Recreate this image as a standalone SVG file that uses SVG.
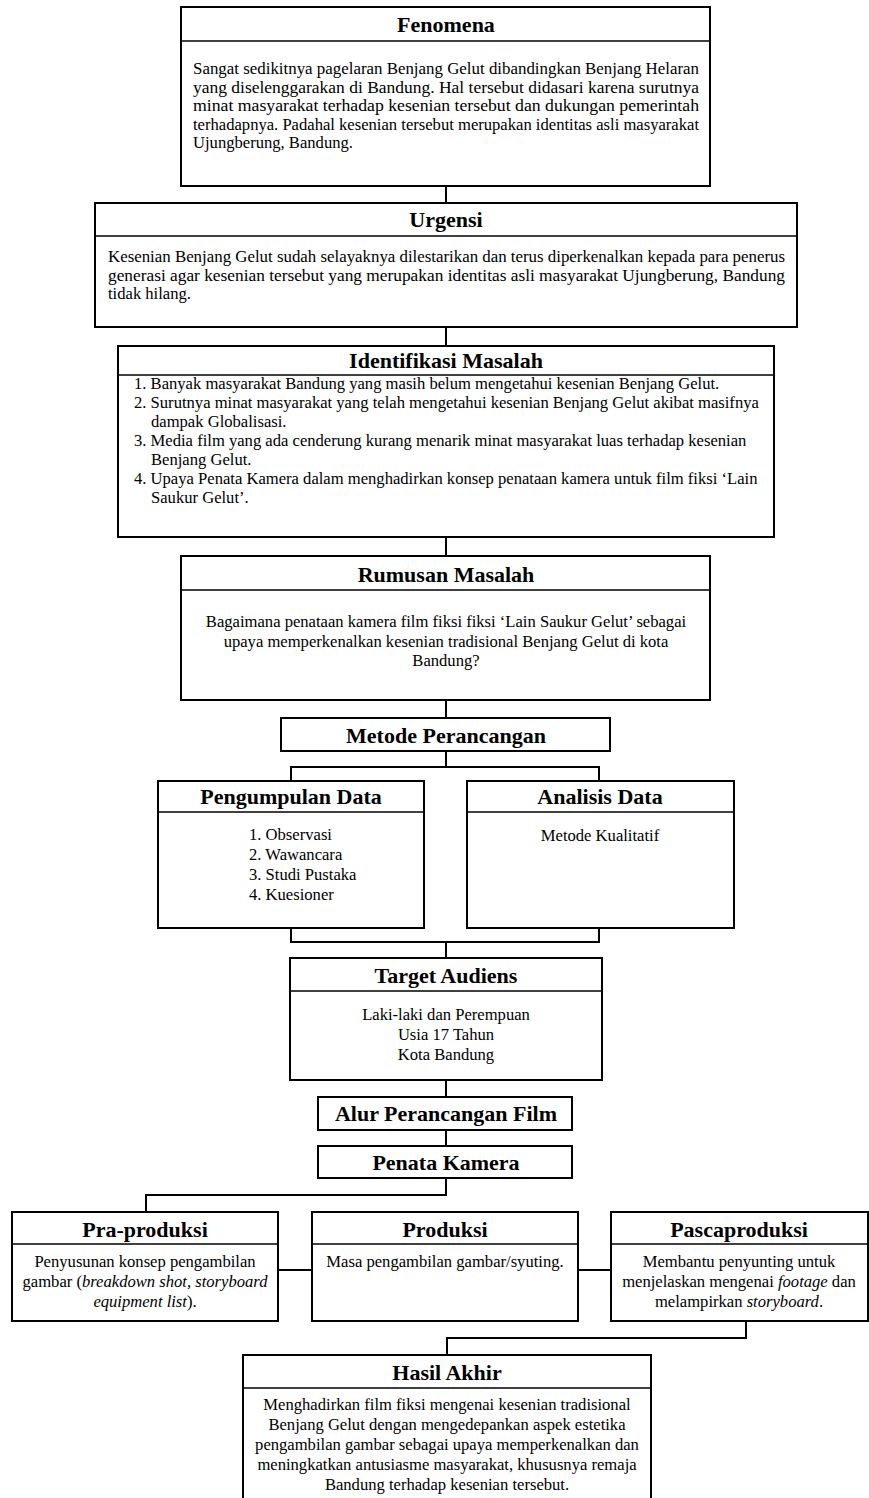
<svg xmlns="http://www.w3.org/2000/svg" width="869" height="1498" viewBox="0 0 869 1498">
<style>
.box{fill:#fff;stroke:#000;stroke-width:2}
.hl{stroke:#000;stroke-width:1.6}
.t{font-family:"Liberation Serif","Times New Roman",serif;font-weight:bold;font-size:22px;text-anchor:middle;fill:#000}
.b{font-family:"Liberation Serif","Times New Roman",serif;font-size:16.6px;fill:#000}
.c{text-anchor:middle}
.con{fill:none;stroke:#000;stroke-width:2}
</style>
<rect width="869" height="1498" fill="#fff"/>
<g id="connectors">
<path class="con" d="M446 186V203M446 327V346M446 537V556M446 700V718M446 751V767M291 781V767H599V781M291 928V942H599V928M446 942V958M446 1080V1097M446 1130V1146M446 1178V1195H146V1212M278 1270H312M578 1270H611M746 1321V1338H447V1355"/>
</g>
<g id="fenomena">
<rect class="box" x="181" y="7" width="529" height="179"/>
<line class="hl" x1="181" y1="41" x2="710" y2="41"/>
<text class="t" x="446" y="32">Fenomena</text>
<text class="b" x="193" y="74" textLength="506" lengthAdjust="spacingAndGlyphs">Sangat sedikitnya pagelaran Benjang Gelut dibandingkan Benjang Helaran</text>
<text class="b" x="193" y="93" textLength="506" lengthAdjust="spacingAndGlyphs">yang diselenggarakan di Bandung. Hal tersebut didasari karena surutnya</text>
<text class="b" x="193" y="111" textLength="506" lengthAdjust="spacingAndGlyphs">minat masyarakat terhadap kesenian tersebut dan dukungan pemerintah</text>
<text class="b" x="193" y="130" textLength="506" lengthAdjust="spacingAndGlyphs">terhadapnya. Padahal kesenian tersebut merupakan identitas asli masyarakat</text>
<text class="b" x="193" y="148">Ujungberung, Bandung.</text>
</g>
<g id="urgensi">
<rect class="box" x="95" y="203" width="702" height="124"/>
<line class="hl" x1="95" y1="236" x2="797" y2="236"/>
<text class="t" x="446" y="227">Urgensi</text>
<text class="b" x="108" y="262" textLength="677" lengthAdjust="spacingAndGlyphs">Kesenian Benjang Gelut sudah selayaknya dilestarikan dan terus diperkenalkan kepada para penerus</text>
<text class="b" x="108" y="281" textLength="677" lengthAdjust="spacingAndGlyphs">generasi agar kesenian tersebut yang merupakan identitas asli masyarakat Ujungberung, Bandung</text>
<text class="b" x="108" y="299">tidak hilang.</text>
</g>
<g id="identifikasi">
<rect class="box" x="118" y="346" width="656" height="191"/>
<line class="hl" x1="118" y1="375" x2="774" y2="375"/>
<text class="t" x="446" y="368">Identifikasi Masalah</text>
<text class="b" x="134" y="389">1. Banyak masyarakat Bandung yang masih belum mengetahui kesenian Benjang Gelut.</text>
<text class="b" x="134" y="408">2. Surutnya minat masyarakat yang telah mengetahui kesenian Benjang Gelut akibat masifnya</text>
<text class="b" x="151" y="427">dampak Globalisasi.</text>
<text class="b" x="134" y="446">3. Media film yang ada cenderung kurang menarik minat masyarakat luas terhadap kesenian</text>
<text class="b" x="151" y="465">Benjang Gelut.</text>
<text class="b" x="134" y="484">4. Upaya Penata Kamera dalam menghadirkan konsep penataan kamera untuk film fiksi ‘Lain</text>
<text class="b" x="151" y="503">Saukur Gelut’.</text>
</g>
<g id="rumusan">
<rect class="box" x="181" y="556" width="529" height="144"/>
<line class="hl" x1="181" y1="590" x2="710" y2="590"/>
<text class="t" x="446" y="582">Rumusan Masalah</text>
<text class="b c" x="446" y="627">Bagaimana penataan kamera film fiksi fiksi ‘Lain Saukur Gelut’ sebagai</text>
<text class="b c" x="446" y="647">upaya memperkenalkan kesenian tradisional Benjang Gelut di kota</text>
<text class="b c" x="446" y="666">Bandung?</text>
</g>
<g id="metode">
<rect class="box" x="281" y="718" width="329" height="33"/>
<text class="t" x="446" y="743">Metode Perancangan</text>
</g>
<g id="pengumpulan">
<rect class="box" x="158" y="781" width="266" height="147"/>
<line class="hl" x1="158" y1="812" x2="424" y2="812"/>
<text class="t" x="291" y="804">Pengumpulan Data</text>
<text class="b" x="249" y="840">1. Observasi</text>
<text class="b" x="249" y="860">2. Wawancara</text>
<text class="b" x="249" y="880">3. Studi Pustaka</text>
<text class="b" x="249" y="900">4. Kuesioner</text>
</g>
<g id="analisis">
<rect class="box" x="467" y="781" width="267" height="147"/>
<line class="hl" x1="467" y1="812" x2="734" y2="812"/>
<text class="t" x="600" y="804">Analisis Data</text>
<text class="b c" x="600" y="841">Metode Kualitatif</text>
</g>
<g id="target">
<rect class="box" x="290" y="958" width="312" height="122"/>
<line class="hl" x1="290" y1="991" x2="602" y2="991"/>
<text class="t" x="446" y="983">Target Audiens</text>
<text class="b c" x="446" y="1020">Laki-laki dan Perempuan</text>
<text class="b c" x="446" y="1040">Usia 17 Tahun</text>
<text class="b c" x="446" y="1060">Kota Bandung</text>
</g>
<g id="alur">
<rect class="box" x="318" y="1097" width="254" height="33"/>
<text class="t" x="446" y="1121">Alur Perancangan Film</text>
</g>
<g id="penata">
<rect class="box" x="318" y="1146" width="254" height="32"/>
<text class="t" x="446" y="1170">Penata Kamera</text>
</g>
<g id="praproduksi">
<rect class="box" x="12" y="1212" width="266" height="109"/>
<line class="hl" x1="12" y1="1244" x2="278" y2="1244"/>
<text class="t" x="145" y="1237">Pra-produksi</text>
<text class="b c" x="145" y="1267">Penyusunan konsep pengambilan</text>
<text class="b c" x="145" y="1287">gambar (<tspan font-style="italic">breakdown shot, storyboard</tspan></text>
<text class="b c" x="145" y="1307"><tspan font-style="italic">equipment list</tspan>).</text>
</g>
<g id="produksi">
<rect class="box" x="312" y="1212" width="266" height="109"/>
<line class="hl" x1="312" y1="1244" x2="578" y2="1244"/>
<text class="t" x="445" y="1237">Produksi</text>
<text class="b c" x="445" y="1267">Masa pengambilan gambar/syuting.</text>
</g>
<g id="pascaproduksi">
<rect class="box" x="611" y="1212" width="257" height="109"/>
<line class="hl" x1="611" y1="1244" x2="868" y2="1244"/>
<text class="t" x="739" y="1237">Pascaproduksi</text>
<text class="b c" x="739" y="1267">Membantu penyunting untuk</text>
<text class="b c" x="739" y="1287">menjelaskan mengenai <tspan font-style="italic">footage</tspan> dan</text>
<text class="b c" x="739" y="1307">melampirkan <tspan font-style="italic">storyboard</tspan>.</text>
</g>
<g id="hasil">
<rect class="box" x="243" y="1355" width="408" height="150"/>
<line class="hl" x1="243" y1="1388" x2="651" y2="1388"/>
<text class="t" x="447" y="1380">Hasil Akhir</text>
<text class="b c" x="447" y="1410">Menghadirkan film fiksi mengenai kesenian tradisional</text>
<text class="b c" x="447" y="1430">Benjang Gelut dengan mengedepankan aspek estetika</text>
<text class="b c" x="447" y="1450">pengambilan gambar sebagai upaya memperkenalkan dan</text>
<text class="b c" x="447" y="1470">meningkatkan antusiasme masyarakat, khususnya remaja</text>
<text class="b c" x="447" y="1490">Bandung terhadap kesenian tersebut.</text>
</g>
</svg>
